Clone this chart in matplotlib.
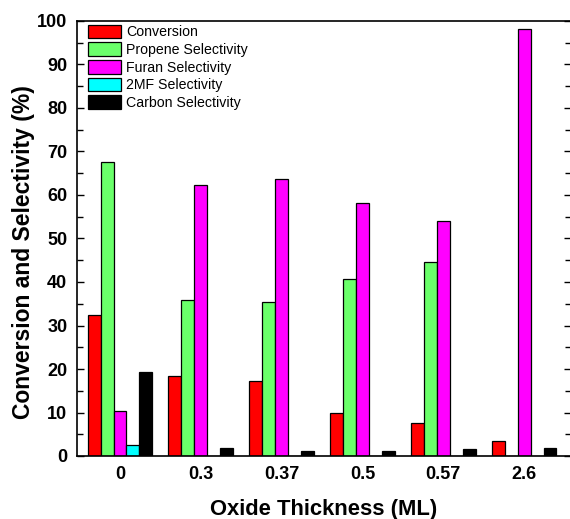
import numpy as np
import matplotlib.pyplot as plt
from matplotlib.ticker import MultipleLocator

plt.rcParams['font.family'] = ['Liberation Sans', 'DejaVu Sans']

thickness = ['0', '0.3', '0.37', '0.5', '0.57', '2.6']
conversion = [32.3, 18.5, 17.3, 10.0, 7.6, 3.4]
propene = [67.7, 35.9, 35.4, 40.7, 44.5, 0.0]
furan = [10.4, 62.2, 63.6, 58.2, 54.0, 98.1]
mf2 = [2.5, 0.0, 0.0, 0.0, 0.0, 0.0]
carbon = [19.4, 1.9, 1.1, 1.1, 1.5, 1.9]

series = [
    ('Conversion', conversion, '#ff0000'),
    ('Propene Selectivity', propene, '#6aff6a'),
    ('Furan Selectivity', furan, '#ff00ff'),
    ('2MF Selectivity', mf2, '#00ffff'),
    ('Carbon Selectivity', carbon, '#000000'),
]

fig = plt.figure(figsize=(5.70, 5.19), dpi=100)
ax = fig.add_axes([77 / 570, 1 - 456 / 519, (571 - 77) / 570, (456 - 21) / 519])

x = np.arange(len(thickness))
w = 0.16
for i, (name, vals, col) in enumerate(series):
    ax.bar(x + (i - 2) * w, vals, width=w, color=col, edgecolor='black',
           linewidth=0.9, label=name)

ax.set_xlim(-0.532, 5.58)
ax.set_ylim(0, 100)
ax.set_xticks(x)
ax.set_xticklabels(thickness)
ax.yaxis.set_major_locator(MultipleLocator(10))
ax.yaxis.set_minor_locator(MultipleLocator(5))
ax.tick_params(axis='x', length=0, pad=7, labelsize=13)
ax.tick_params(axis='y', which='both', direction='in', right=True, labelsize=13, pad=7)
ax.tick_params(axis='y', which='major', length=5, width=1)
ax.tick_params(axis='y', which='minor', length=4, width=1)
for lab in ax.get_xticklabels() + ax.get_yticklabels():
    lab.set_fontweight('bold')
for s in ax.spines.values():
    s.set_linewidth(1.2)

ax.set_xlabel('Oxide Thickness (ML)', fontsize=15.8, fontweight='bold', labelpad=12)
ax.set_ylabel('Conversion and Selectivity (%)', fontsize=16.5, fontweight='bold')
ax.yaxis.set_label_coords(-0.086, 0.469)

ax.legend(loc='upper left', bbox_to_anchor=(0.015, 1.0), frameon=False,
          fontsize=10.2, handlelength=2.3, handleheight=1.1, labelspacing=0.22,
          handletextpad=0.4, borderpad=0.15, borderaxespad=0.1)

fig.savefig('out.png', dpi=100)
